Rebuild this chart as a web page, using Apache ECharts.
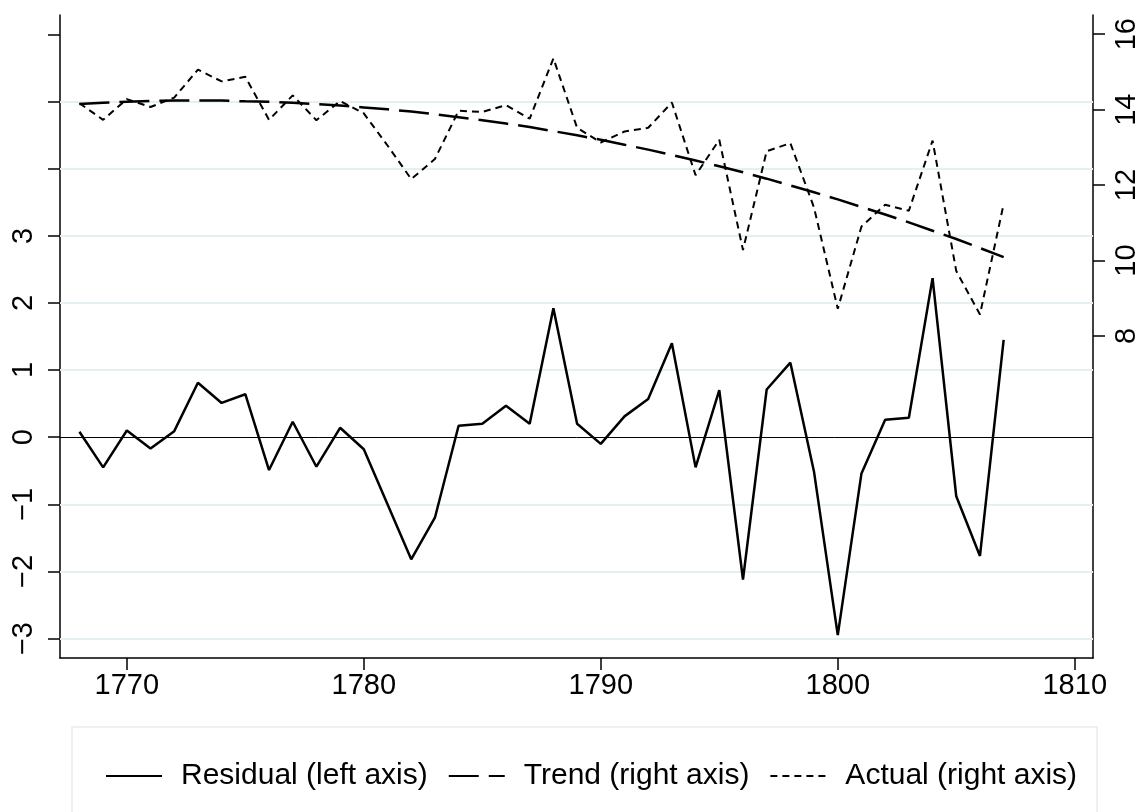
<!DOCTYPE html>
<html>
<head>
<meta charset="utf-8">
<title>Residual, trend and actual</title>
<script src="https://cdn.jsdelivr.net/npm/echarts@6/dist/echarts.min.js"></script>
<style>
  html, body { margin: 0; padding: 0; background: #fff; }
  #chart { width: 1141px; height: 812px; }
</style>
</head>
<body>
<div id="chart"></div>
<script>
// years on the x axis
var years = [1768, 1769, 1770, 1771, 1772, 1773, 1774, 1775, 1776, 1777,
  1778, 1779, 1780, 1781, 1782, 1783, 1784, 1785, 1786, 1787,
  1788, 1789, 1790, 1791, 1792, 1793, 1794, 1795, 1796, 1797,
  1798, 1799, 1800, 1801, 1802, 1803, 1804, 1805, 1806, 1807]

// left axis
var residual = [0.08, -0.45, 0.10, -0.17, 0.09, 0.81, 0.51, 0.64, -0.49, 0.23,
  -0.44, 0.14, -0.18, -1.00, -1.82, -1.20, 0.17, 0.20, 0.47, 0.20,
  1.92, 0.20, -0.10, 0.31, 0.57, 1.40, -0.45, 0.70, -2.12, 0.71,
  1.11, -0.52, -2.95, -0.54, 0.26, 0.29, 2.37, -0.88, -1.77, 1.45]

// right axis
var trend = [14.15, 14.18, 14.21, 14.23, 14.24, 14.24, 14.24, 14.22, 14.21, 14.18,
  14.15, 14.11, 14.06, 14.01, 13.95, 13.88, 13.80, 13.72, 13.63, 13.54,
  13.43, 13.32, 13.20, 13.07, 12.94, 12.80, 12.65, 12.50, 12.34, 12.17,
  11.99, 11.81, 11.62, 11.42, 11.22, 11.01, 10.79, 10.57, 10.33, 10.09]

var actual = [14.17, 13.73, 14.28, 14.07, 14.32, 15.06, 14.75, 14.87, 13.73, 14.38,
  13.72, 14.23, 13.90, 13.05, 12.16, 12.69, 13.97, 13.94, 14.12, 13.76,
  15.36, 13.52, 13.13, 13.42, 13.52, 14.19, 12.26, 13.20, 10.28, 12.90,
  13.11, 11.40, 8.72, 10.90, 11.48, 11.32, 13.18, 9.72, 8.57, 11.50]

var xTicks = [1770, 1780, 1790, 1800, 1810]
var leftTicks = [-3, -2, -1, 0, 1, 2, 3, 4, 5, 6]
var leftLabels = [-3, -2, -1, 0, 1, 2, 3]
var rightTicks = [8, 10, 12, 14, 16]
var gridValues = [-3, -2, -1, 1, 2, 3, 4, 5]
var seriesNames = ['Residual (left axis)', 'Trend (right axis)', 'Actual (right axis)']

var font = 'Liberation Sans, Arial, Helvetica, sans-serif'

function pairs(values) {
  return years.map(function (y, i) { return [y, values[i]] })
}

function minusSign(v) {
  return String(v).replace('-', '\u2212')
}

var chart = echarts.init(document.getElementById('chart'), null, {renderer: 'canvas'})

var axisLine = {show: true, onZero: false, lineStyle: {color: '#000', width: 1.5}}
var tickStyle = {color: '#000', width: 1.5}

var option = {
  backgroundColor: '#fff',
  animation: false,
  textStyle: {fontFamily: font},
  grid: {left: 60, right: 44, top: 15, bottom: 154, containLabel: false},
  graphic: [{
    type: 'rect',
    z: 0,
    shape: {x: 72, y: 727, width: 1025, height: 100},
    style: {fill: '#fff', stroke: '#e6eef0', lineWidth: 1.5}
  }],
  legend: {
    data: seriesNames,
    left: 100,
    top: 756,
    itemWidth: 56,
    itemHeight: 14,
    itemGap: 20,
    // hide the marker circle, keep only the line sample
    itemStyle: {opacity: 0},
    textStyle: {fontSize: 30, color: '#000', fontFamily: font, padding: [0, 0, 0, 14]}
  },
  xAxis: {
    type: 'value',
    min: 1767.18,
    max: 1810.77,
    axisLine: axisLine,
    axisTick: {show: true, length: 12, lineStyle: tickStyle, customValues: xTicks},
    axisLabel: {
      customValues: xTicks, fontSize: 29, color: '#000', margin: 13, fontFamily: font,
      formatter: function (v) { return String(v) }
    },
    splitLine: {show: false}
  },
  yAxis: [
    {
      type: 'value',
      position: 'left',
      min: -3.29,
      max: 6.29,
      axisLine: axisLine,
      axisTick: {show: true, length: 12, lineStyle: tickStyle, customValues: leftTicks},
      axisLabel: {
        customValues: leftLabels, rotate: 90, fontSize: 29, color: '#000', margin: 22,
        fontFamily: font, formatter: minusSign
      },
      splitLine: {show: false}
    },
    {
      type: 'value',
      position: 'right',
      min: -0.54,
      max: 16.51,
      axisLine: axisLine,
      axisTick: {show: true, length: 12, lineStyle: tickStyle, customValues: rightTicks},
      axisLabel: {
        customValues: rightTicks, rotate: 90, fontSize: 29, color: '#000', margin: 19,
        fontFamily: font, formatter: minusSign
      },
      splitLine: {show: false}
    }
  ],
  series: [
    {
      // grid lines and the zero line
      name: 'guides',
      type: 'line',
      yAxisIndex: 0,
      data: [],
      silent: true,
      markLine: {
        symbol: 'none',
        silent: true,
        z: 1,
        label: {show: false},
        data: gridValues.map(function (v) {
          return {yAxis: v, lineStyle: {color: '#e6eff2', width: 2, type: 'solid'}}
        }).concat([{yAxis: 0, lineStyle: {color: '#000', width: 1, type: 'solid'}}])
      }
    },
    {
      name: seriesNames[0],
      type: 'line',
      yAxisIndex: 0,
      data: pairs(residual),
      symbol: 'none',
      z: 3,
      lineStyle: {color: '#000', width: 2.5, type: 'solid'},
      itemStyle: {color: '#000'}
    },
    {
      name: seriesNames[1],
      type: 'line',
      yAxisIndex: 1,
      data: pairs(trend),
      symbol: 'none',
      z: 3,
      lineStyle: {color: '#000', width: 2.5, type: [30, 10]},
      itemStyle: {color: '#000'}
    },
    {
      name: seriesNames[2],
      type: 'line',
      yAxisIndex: 1,
      data: pairs(actual),
      symbol: 'none',
      z: 3,
      lineStyle: {color: '#000', width: 2, type: [7, 5]},
      itemStyle: {color: '#000'}
    }
  ]
}

chart.setOption(option)
</script>
</body>
</html>
